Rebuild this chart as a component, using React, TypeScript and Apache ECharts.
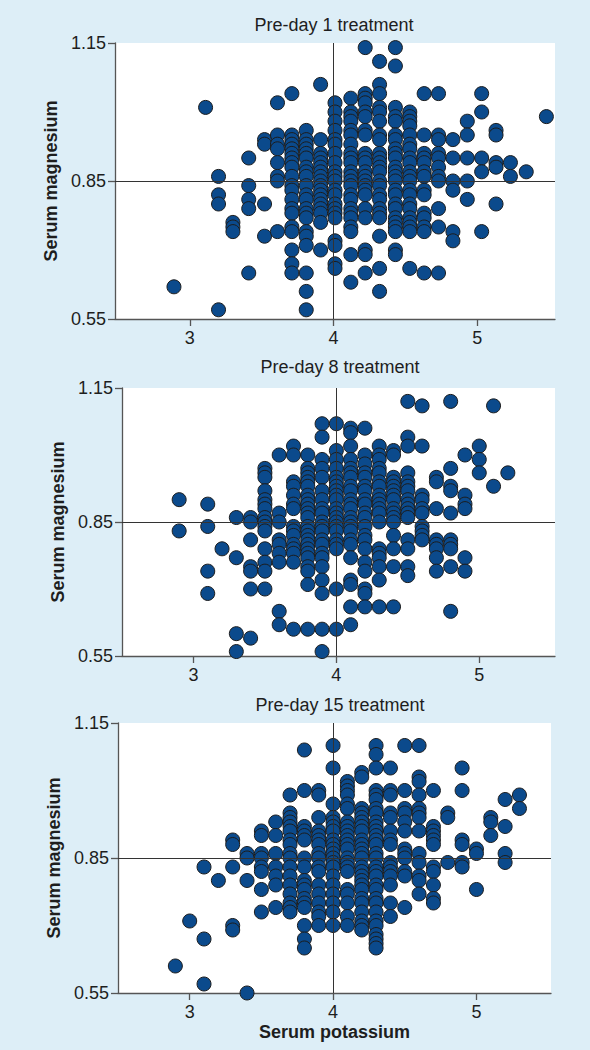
import React, { useEffect, useRef } from "react";
import * as echarts from "echarts";

// ---------- data ----------
const panelTitles = ["Pre-day 1 treatment", "Pre-day 8 treatment", "Pre-day 15 treatment"];
const xAxisName = "Serum potassium";
const yAxisName = "Serum magnesium";
const xTicks = [3, 4, 5];
const yTicks = [0.55, 0.85, 1.15];
const refPotassium = 4;
const refMagnesium = 0.85;

// Pre-day 1: potassium columns and the magnesium values in each column
const day1Potassium = [2.89, 3.11, 3.2, 3.3, 3.41, 3.52, 3.61, 3.71, 3.81, 3.91, 4.01, 4.12, 4.22, 4.32, 4.43, 4.53, 4.63, 4.73, 4.83, 4.93, 5.03, 5.13, 5.23, 5.34, 5.48];
const day1Magnesium = [
  [0.62],
  [1.01],
  [0.86, 0.82, 0.8, 0.57],
  [0.76, 0.75, 0.74],
  [0.9, 0.84, 0.81, 0.79, 0.65],
  [0.94, 0.93, 0.8, 0.73],
  [1.02, 0.95, 0.93, 0.92, 0.89, 0.86, 0.85, 0.74],
  [1.04, 0.95, 0.94, 0.93, 0.92, 0.91, 0.9, 0.89, 0.88, 0.86, 0.84, 0.83, 0.81, 0.79, 0.78, 0.75, 0.74, 0.7, 0.67, 0.65],
  [0.96, 0.94, 0.93, 0.92, 0.91, 0.9, 0.88, 0.87, 0.86, 0.84, 0.82, 0.81, 0.79, 0.78, 0.77, 0.74, 0.73, 0.71, 0.65, 0.61, 0.57],
  [1.06, 0.94, 0.91, 0.9, 0.89, 0.88, 0.87, 0.86, 0.85, 0.84, 0.83, 0.82, 0.81, 0.8, 0.79, 0.78, 0.76, 0.7],
  [1.02, 1.0, 0.98, 0.96, 0.94, 0.93, 0.91, 0.89, 0.87, 0.86, 0.85, 0.83, 0.82, 0.8, 0.79, 0.78, 0.77, 0.72, 0.71, 0.67, 0.66],
  [1.03, 1.0, 0.99, 0.98, 0.96, 0.95, 0.93, 0.91, 0.9, 0.89, 0.87, 0.86, 0.85, 0.84, 0.82, 0.81, 0.79, 0.78, 0.77, 0.75, 0.74, 0.69, 0.63],
  [1.14, 1.04, 1.03, 1.02, 1.0, 0.99, 0.96, 0.95, 0.91, 0.9, 0.89, 0.87, 0.86, 0.85, 0.84, 0.83, 0.82, 0.79, 0.77, 0.7, 0.69, 0.65],
  [1.11, 1.06, 1.04, 1.01, 1.0, 0.98, 0.95, 0.94, 0.91, 0.9, 0.89, 0.88, 0.87, 0.85, 0.84, 0.82, 0.81, 0.79, 0.78, 0.77, 0.73, 0.66, 0.61],
  [1.14, 1.1, 1.01, 0.99, 0.98, 0.95, 0.94, 0.92, 0.91, 0.9, 0.88, 0.87, 0.86, 0.85, 0.83, 0.82, 0.8, 0.79, 0.77, 0.76, 0.75, 0.74, 0.7, 0.69],
  [1.0, 0.99, 0.98, 0.97, 0.95, 0.93, 0.92, 0.9, 0.89, 0.87, 0.86, 0.85, 0.83, 0.82, 0.8, 0.79, 0.77, 0.76, 0.75, 0.74, 0.66],
  [1.04, 0.95, 0.91, 0.9, 0.89, 0.87, 0.86, 0.83, 0.82, 0.78, 0.77, 0.75, 0.74, 0.65],
  [1.04, 0.95, 0.94, 0.91, 0.9, 0.88, 0.86, 0.85, 0.79, 0.75, 0.65],
  [0.94, 0.9, 0.85, 0.83, 0.74, 0.72],
  [0.98, 0.95, 0.9, 0.85, 0.81],
  [1.04, 1.0, 0.9, 0.87, 0.74],
  [0.96, 0.95, 0.89, 0.88, 0.8],
  [0.89, 0.86],
  [0.87],
  [0.99],
];

// Pre-day 8
const day8Potassium = [2.9, 3.1, 3.2, 3.3, 3.4, 3.5, 3.6, 3.7, 3.8, 3.9, 4.0, 4.1, 4.2, 4.3, 4.4, 4.5, 4.6, 4.7, 4.8, 4.9, 5.0, 5.1, 5.2];
const day8Magnesium = [
  [0.9, 0.83],
  [0.89, 0.84, 0.74, 0.69],
  [0.79],
  [0.86, 0.77, 0.6, 0.56],
  [0.86, 0.85, 0.81, 0.75, 0.74, 0.7, 0.59],
  [0.97, 0.96, 0.95, 0.92, 0.9, 0.89, 0.88, 0.86, 0.85, 0.84, 0.83, 0.79, 0.76, 0.74, 0.7],
  [1.0, 0.87, 0.85, 0.81, 0.8, 0.78, 0.76, 0.65, 0.62],
  [1.02, 1.0, 0.94, 0.93, 0.91, 0.89, 0.88, 0.84, 0.83, 0.82, 0.8, 0.79, 0.78, 0.76, 0.61],
  [1.0, 0.97, 0.96, 0.95, 0.94, 0.93, 0.91, 0.9, 0.89, 0.88, 0.87, 0.86, 0.84, 0.83, 0.82, 0.81, 0.8, 0.79, 0.78, 0.77, 0.75, 0.74, 0.71, 0.61],
  [1.07, 1.04, 0.99, 0.97, 0.95, 0.92, 0.9, 0.88, 0.87, 0.85, 0.84, 0.83, 0.81, 0.8, 0.78, 0.77, 0.75, 0.72, 0.69, 0.61, 0.56],
  [1.07, 1.01, 0.99, 0.97, 0.95, 0.94, 0.93, 0.92, 0.91, 0.9, 0.88, 0.87, 0.86, 0.85, 0.84, 0.83, 0.81, 0.8, 0.79, 0.7, 0.61],
  [1.06, 1.05, 1.02, 0.99, 0.97, 0.96, 0.95, 0.93, 0.92, 0.9, 0.89, 0.88, 0.86, 0.85, 0.84, 0.83, 0.81, 0.8, 0.77, 0.72, 0.71, 0.66, 0.62],
  [1.06, 1.0, 0.98, 0.96, 0.95, 0.93, 0.92, 0.9, 0.89, 0.87, 0.86, 0.84, 0.82, 0.81, 0.79, 0.76, 0.74, 0.7, 0.69, 0.66],
  [1.02, 1.0, 0.99, 0.97, 0.96, 0.94, 0.93, 0.91, 0.9, 0.89, 0.88, 0.87, 0.85, 0.79, 0.78, 0.77, 0.75, 0.72, 0.66],
  [1.01, 1.0, 0.95, 0.94, 0.93, 0.92, 0.91, 0.9, 0.88, 0.87, 0.86, 0.85, 0.82, 0.79, 0.75, 0.66],
  [1.12, 1.04, 1.02, 0.96, 0.94, 0.93, 0.92, 0.9, 0.89, 0.88, 0.87, 0.86, 0.81, 0.79, 0.75, 0.73],
  [1.11, 1.02, 0.91, 0.9, 0.88, 0.87, 0.84, 0.83, 0.82, 0.81],
  [0.95, 0.94, 0.88, 0.81, 0.8, 0.79, 0.77, 0.74],
  [1.12, 0.97, 0.93, 0.92, 0.87, 0.81, 0.8, 0.79, 0.75, 0.65],
  [1.0, 0.91, 0.89, 0.88, 0.77, 0.74],
  [1.02, 0.99, 0.96],
  [1.11, 0.93],
  [0.96],
];

// Pre-day 15
const day15Potassium = [2.9, 3.0, 3.1, 3.2, 3.3, 3.4, 3.5, 3.6, 3.7, 3.8, 3.9, 4.0, 4.1, 4.2, 4.3, 4.4, 4.5, 4.6, 4.7, 4.8, 4.9, 5.0, 5.1, 5.2, 5.3];
const day15Magnesium = [
  [0.61],
  [0.71],
  [0.83, 0.67, 0.57],
  [0.8],
  [0.89, 0.88, 0.83, 0.7, 0.69],
  [0.86, 0.85, 0.8, 0.55],
  [0.91, 0.9, 0.86, 0.85, 0.83, 0.82, 0.78, 0.73],
  [0.93, 0.9, 0.86, 0.83, 0.81, 0.79, 0.74],
  [0.99, 0.95, 0.94, 0.93, 0.92, 0.91, 0.89, 0.88, 0.86, 0.85, 0.83, 0.81, 0.79, 0.77, 0.75, 0.74, 0.73],
  [1.09, 1.0, 0.92, 0.91, 0.9, 0.89, 0.85, 0.83, 0.8, 0.79, 0.78, 0.76, 0.75, 0.74, 0.7, 0.67, 0.65],
  [1.0, 0.99, 0.94, 0.91, 0.9, 0.89, 0.88, 0.86, 0.85, 0.83, 0.82, 0.79, 0.77, 0.75, 0.73, 0.72, 0.7],
  [1.1, 1.05, 0.97, 0.94, 0.93, 0.92, 0.91, 0.89, 0.88, 0.87, 0.86, 0.85, 0.84, 0.83, 0.81, 0.79, 0.77, 0.75, 0.73, 0.7],
  [1.02, 1.01, 1.0, 0.99, 0.97, 0.96, 0.93, 0.92, 0.91, 0.9, 0.89, 0.88, 0.87, 0.85, 0.84, 0.83, 0.82, 0.78, 0.77, 0.75, 0.72, 0.7],
  [1.04, 1.03, 0.96, 0.95, 0.94, 0.93, 0.92, 0.91, 0.89, 0.88, 0.87, 0.86, 0.85, 0.83, 0.82, 0.81, 0.8, 0.79, 0.78, 0.76, 0.75, 0.73, 0.71, 0.7, 0.69],
  [1.1, 1.08, 1.05, 1.0, 0.99, 0.98, 0.96, 0.95, 0.93, 0.92, 0.91, 0.9, 0.89, 0.88, 0.86, 0.85, 0.83, 0.82, 0.81, 0.79, 0.78, 0.76, 0.75, 0.73, 0.71, 0.7, 0.68, 0.67, 0.66, 0.65],
  [1.05, 1.0, 0.99, 0.95, 0.94, 0.91, 0.89, 0.88, 0.84, 0.83, 0.82, 0.81, 0.79, 0.75, 0.72],
  [1.1, 1.0, 0.96, 0.95, 0.93, 0.91, 0.87, 0.86, 0.85, 0.82, 0.81, 0.74],
  [1.1, 1.03, 1.02, 0.99, 0.96, 0.95, 0.94, 0.91, 0.86, 0.84, 0.81, 0.8, 0.77],
  [1.0, 0.92, 0.91, 0.9, 0.89, 0.88, 0.83, 0.82, 0.79, 0.76, 0.75],
  [0.95, 0.94, 0.84],
  [1.05, 1.0, 0.89, 0.88, 0.84, 0.83],
  [0.87, 0.86, 0.78],
  [0.94, 0.93, 0.9],
  [0.98, 0.92, 0.86, 0.84],
  [0.99, 0.96],
];

// ---------- layout / style ----------
const FONT = "'Liberation Sans', Arial, Helvetica, sans-serif";
const BG = "#DDEEF7";
const TEXT = "#1e1e1e";
const AXIS = "#555555";
const DOT = "#0B4A8C";

const panels = [
  { k: day1Potassium, mg: day1Magnesium, left: 115, top: 43, width: 440, height: 276, xMin: 2.48, xMax: 5.54, nameGap: 42, titleX: 334, titleY: 25 },
  { k: day8Potassium, mg: day8Magnesium, left: 122, top: 388, width: 433, height: 268, xMin: 2.5, xMax: 5.53, nameGap: 49, titleX: 340, titleY: 367 },
  { k: day15Potassium, mg: day15Magnesium, left: 118, top: 723, width: 433, height: 270, xMin: 2.5, xMax: 5.52, nameGap: 45, titleX: 340, titleY: 705 },
];

function toPoints(k: number[], mg: number[][]) {
  const out: number[][] = [];
  k.forEach((kv, i) => (mg[i] || []).forEach((m) => out.push([kv, m])));
  return out;
}

function buildOption() {
  const grid: any[] = [];
  const xAxis: any[] = [];
  const yAxis: any[] = [];
  const series: any[] = [];
  const graphic: any[] = [];
  panels.forEach((p, i) => {
    grid.push({
      left: p.left, top: p.top, width: p.width, height: p.height,
      show: true, backgroundColor: "#ffffff", borderWidth: 0,
    });
    xAxis.push({
      type: "value", gridIndex: i, min: p.xMin, max: p.xMax,
      name: i === 2 ? xAxisName : "",
      nameLocation: "middle", nameGap: 30,
      nameTextStyle: { fontFamily: FONT, fontSize: 18, fontWeight: "bold", color: TEXT },
      axisLine: { show: true, onZero: false, lineStyle: { color: AXIS, width: 1.3 } },
      axisTick: { show: true, length: 7, customValues: xTicks, lineStyle: { color: AXIS, width: 1.3 } },
      axisLabel: { customValues: xTicks, margin: 10, fontFamily: FONT, fontSize: 18, color: TEXT },
      splitLine: { show: false },
    });
    yAxis.push({
      type: "value", gridIndex: i, min: 0.55, max: 1.15,
      name: yAxisName, nameLocation: "middle", nameGap: p.nameGap, nameRotate: 90,
      nameTextStyle: { fontFamily: FONT, fontSize: 18, fontWeight: "bold", color: TEXT },
      axisLine: { show: true, onZero: false, lineStyle: { color: AXIS, width: 1.3 } },
      axisTick: { show: true, length: 7, customValues: yTicks, lineStyle: { color: AXIS, width: 1.3 } },
      axisLabel: { customValues: yTicks, margin: 9, fontFamily: FONT, fontSize: 18, color: TEXT, formatter: (v: number) => v.toFixed(2) },
      splitLine: { show: false },
    });
    series.push({
      type: "scatter", xAxisIndex: i, yAxisIndex: i, data: [], z: 1, silent: true,
      markLine: {
        silent: true, symbol: "none", animation: false,
        label: { show: false },
        lineStyle: { color: "#333333", width: 1, type: "solid" },
        data: [{ xAxis: refPotassium }, { yAxis: refMagnesium }],
      },
    });
    series.push({
      type: "scatter", xAxisIndex: i, yAxisIndex: i, z: 3,
      data: toPoints(p.k, p.mg),
      symbol: "circle", symbolSize: 14,
      itemStyle: { color: DOT, borderColor: "#1c1c1c", borderWidth: 1, opacity: 1 },
    });
    graphic.push({
      type: "text", x: p.titleX, y: p.titleY, silent: true,
      style: { text: panelTitles[i], fontFamily: FONT, fontSize: 18, fill: TEXT, textAlign: "center", textVerticalAlign: "middle" },
    });
  });
  return { animation: false, backgroundColor: BG, grid, xAxis, yAxis, series, graphic };
}

export default function App() {
  const ref = useRef<HTMLDivElement>(null);
  useEffect(() => {
    if (!ref.current) return;
    const chart = echarts.init(ref.current, null, { renderer: "svg" });
    chart.setOption(buildOption() as any);
    return () => chart.dispose();
  }, []);
  return (
    <div
      ref={ref}
      style={{ position: "absolute", left: 0, top: 0, width: 590, height: 1050, background: BG }}
    />
  );
}
